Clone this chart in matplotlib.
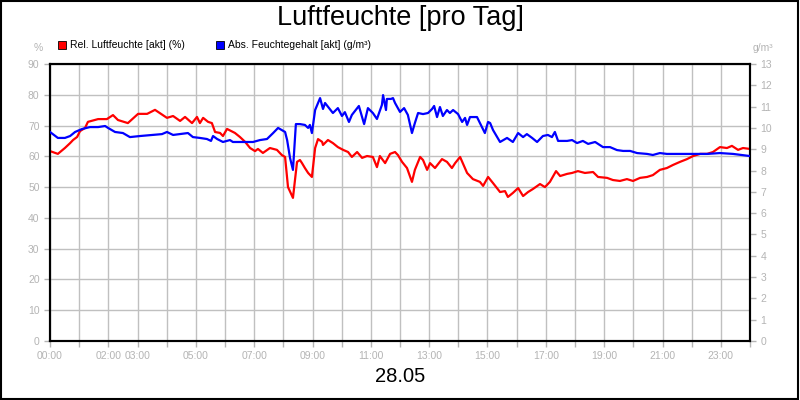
import matplotlib
matplotlib.use("Agg")
import matplotlib.pyplot as plt
from matplotlib.patches import Rectangle

plt.rcParams['font.family'] = ['Liberation Sans', 'DejaVu Sans']

title = "Luftfeuchte [pro Tag]"
date_label = "28.05"
rel_label = "Rel. Luftfeuchte [akt] (%)"
abs_label = "Abs. Feuchtegehalt [akt] (g/m³)"
tick_hours_labeled = [0, 2, 3, 5, 7, 9, 11, 13, 15, 17, 19, 21, 23]

rel_hours = [0.00, 0.27, 0.51, 0.69, 0.79, 0.93, 1.03, 1.20, 1.30, 1.65, 1.95, 2.16, 2.33, 2.67,
             3.02, 3.33, 3.60, 3.87, 4.01, 4.22, 4.46, 4.63, 4.87, 5.04, 5.14, 5.25, 5.42, 5.55,
             5.66, 5.83, 5.93, 6.07, 6.34, 6.51, 6.69, 6.86, 7.03, 7.13, 7.30, 7.54, 7.78, 7.95,
             8.06, 8.16, 8.33, 8.47, 8.57, 8.64, 8.74, 8.85, 8.98, 9.09, 9.19, 9.33, 9.36, 9.53,
             9.70, 9.87, 10.05, 10.22, 10.35, 10.53, 10.70, 10.87, 11.07, 11.21, 11.31, 11.49,
             11.66, 11.83, 11.93, 12.07, 12.24, 12.41, 12.51, 12.69, 12.79, 12.93, 13.03, 13.20,
             13.44, 13.61, 13.78, 13.89, 14.06, 14.30, 14.50, 14.74, 14.85, 15.02, 15.19, 15.43,
             15.60, 15.70, 15.87, 16.05, 16.22, 16.39, 16.56, 16.80, 16.97, 17.14, 17.35, 17.49,
             17.73, 17.90, 18.10, 18.34, 18.62, 18.79, 19.10, 19.30, 19.54, 19.78, 19.99, 20.23,
             20.47, 20.67, 20.91, 21.15, 21.36, 21.60, 21.84, 22.05, 22.29, 22.53, 22.73, 22.97,
             23.21, 23.38, 23.59, 23.76, 24.00]
rel_values = [61.7, 60.8, 62.7, 64.3, 65.3, 66.3, 68.2, 69.2, 71.2, 72.1, 72.1, 73.4, 71.8, 70.8,
              73.8, 73.8, 75.1, 73.4, 72.5, 73.1, 71.5, 72.8, 70.8, 72.8, 70.8, 72.5, 71.2, 70.8,
              67.9, 67.6, 66.6, 68.9, 67.6, 66.3, 64.7, 62.7, 61.7, 62.4, 61.1, 62.7, 62.1, 60.4,
              59.8, 50.0, 46.5, 58.2, 58.8, 57.8, 56.2, 54.6, 53.3, 62.7, 65.6, 64.7, 63.7, 65.3,
              64.3, 63.0, 62.1, 61.4, 59.8, 61.4, 59.5, 60.1, 59.8, 56.5, 60.1, 57.8,
              60.8, 61.4, 60.4, 58.2, 56.2, 51.7, 55.6, 59.8, 58.8, 55.6, 57.8, 56.2,
              59.1, 58.2, 56.2, 57.8, 59.8, 54.6, 52.6, 51.7, 50.4, 53.3, 51.3, 48.4,
              48.7, 46.8, 48.1, 49.7, 47.1, 48.4, 49.4, 51.0, 50.0, 51.7, 55.2, 53.6,
              54.3, 54.6, 55.2, 54.6, 54.9, 53.3, 53.0, 52.3, 52.0, 52.6, 52.0, 53.0,
              53.3, 53.9, 55.6, 56.2, 57.2, 58.2, 59.1, 60.1, 60.8, 60.8, 61.4, 63.0,
              62.7, 63.4, 62.1, 62.7, 62.4]

abs_hours = [0.00, 0.27, 0.51, 0.69, 0.86, 1.10, 1.37, 1.65, 1.89, 1.99, 2.23, 2.50, 2.74, 3.09,
             3.53, 3.84, 4.01, 4.22, 4.46, 4.73, 4.90, 5.14, 5.38, 5.52, 5.59, 5.73, 5.93, 6.17,
             6.27, 6.75, 6.96, 7.20, 7.44, 7.65, 7.82, 8.06, 8.13, 8.23, 8.33, 8.43, 8.57, 8.74,
             8.85, 8.91, 8.98, 9.09, 9.26, 9.36, 9.43, 9.70, 9.87, 10.01, 10.11, 10.25, 10.35,
             10.59, 10.77, 10.90, 11.07, 11.21, 11.38, 11.42, 11.52, 11.55, 11.69, 11.76, 11.83,
             12.00, 12.14, 12.27, 12.41, 12.51, 12.62, 12.79, 12.96, 13.10, 13.17, 13.27, 13.37,
             13.47, 13.61, 13.71, 13.82, 13.99, 14.13, 14.23, 14.30, 14.40, 14.64, 14.74, 14.91,
             15.02, 15.09, 15.19, 15.43, 15.67, 15.87, 16.05, 16.22, 16.35, 16.53, 16.70, 16.90,
             17.07, 17.21, 17.31, 17.42, 17.73, 17.90, 18.07, 18.27, 18.45, 18.69, 18.96, 19.20,
             19.44, 19.65, 19.89, 20.13, 20.47, 20.67, 20.91, 21.15, 21.60, 22.05, 22.53, 22.97,
             23.42, 24.00]
abs_values = [9.81, 9.53, 9.53, 9.62, 9.81, 9.95, 10.04, 10.04, 10.09, 10.00, 9.81, 9.76, 9.57, 9.62,
              9.67, 9.71, 9.81, 9.67, 9.71, 9.76, 9.57, 9.53, 9.48, 9.39, 9.62, 9.48, 9.34, 9.43,
              9.34, 9.34, 9.34, 9.43, 9.48, 9.76, 10.00, 9.81, 9.43, 8.59, 8.03, 10.18, 10.18, 10.14,
              10.00, 10.14, 9.76, 10.84, 11.40, 10.89, 11.17, 10.70, 10.93, 10.56, 10.74, 10.28, 10.61,
              11.03, 10.18, 10.93, 10.70, 10.42, 11.08, 11.54, 10.84, 11.36, 11.36, 11.40, 11.17,
              10.75, 10.93, 10.61, 9.76, 10.23, 10.70, 10.65, 10.70, 10.89, 11.03, 10.51, 10.98,
              10.56, 10.84, 10.70, 10.84, 10.65, 10.28, 10.47, 10.14, 10.51, 10.51, 10.23, 9.76,
              10.28, 10.23, 9.90, 9.34, 9.53, 9.34, 9.76, 9.57, 9.71, 9.53, 9.34, 9.62,
              9.67, 9.57, 9.81, 9.39, 9.39, 9.43, 9.29, 9.39, 9.25, 9.34, 9.10, 9.10,
              8.96, 8.92, 8.92, 8.82, 8.78, 8.73, 8.82, 8.78, 8.78, 8.78, 8.78, 8.82,
              8.78, 8.68]

GREY = '#b4b4b4'
GRID = '#c0c0c0'

fig = plt.figure(figsize=(8, 4), dpi=100)
ax = fig.add_axes([50/800, 1 - 341/400, 700/800, 277/400])
ax2 = ax.twinx()

ax.set_xlim(0, 24)
ax.set_ylim(0, 90)
ax2.set_ylim(0, 13)

ax.set_xticks(range(0, 25))
ax.set_xticklabels([f"{h:02d}:00" if h in tick_hours_labeled else "" for h in range(0, 25)])
ax.set_yticks(range(0, 91, 10))
ax2.set_yticks(range(0, 14))

ax.grid(True, color=GRID, linewidth=1.0)
ax.set_axisbelow(True)

ax.tick_params(axis='both', colors=GREY, labelcolor=GREY, labelsize=7.5, length=4, width=1)
ax.tick_params(axis='x', pad=3)
ax2.tick_params(axis='y', colors=GREY, labelcolor=GREY, labelsize=7.5, length=4, width=1)

for a in (ax, ax2):
    for s in a.spines.values():
        s.set_color('black')
        s.set_linewidth(1.5)

ax.plot(rel_hours, rel_values, color='#ff0000', linewidth=1.6, zorder=3)
ax2.plot(abs_hours, abs_values, color='#0000ff', linewidth=1.6, zorder=3)

fig.text(0.5, 1 - 18/400, title, ha='center', va='center', fontsize=19.5, color='black')
fig.text(0.5, 1 - 377/400, date_label, ha='center', va='center', fontsize=14.5, color='black')

fig.text(43/800, 1 - 48/400, "%", ha='right', va='center', fontsize=7.5, color=GREY)
fig.text(753/800, 1 - 48/400, "g/m³", ha='left', va='center', fontsize=7.5, color=GREY)

# legend
fig.patches.append(Rectangle((58/800, 1 - 49/400), 8/800, 8/400, transform=fig.transFigure,
                             facecolor='#ff0000', edgecolor='black', linewidth=0.6))
fig.text(70/800, 1 - 45/400, rel_label, ha='left', va='center', fontsize=7.5, color='black')
fig.patches.append(Rectangle((216/800, 1 - 49/400), 8/800, 8/400, transform=fig.transFigure,
                             facecolor='#0000ff', edgecolor='black', linewidth=0.6))
fig.text(228/800, 1 - 45/400, abs_label, ha='left', va='center', fontsize=7.5, color='black')

# outer border
fig.patches.append(Rectangle((0.001, 0.002), 0.997, 0.996, transform=fig.transFigure,
                             facecolor='none', edgecolor='black', linewidth=1.5))

fig.savefig("out.png", dpi=100)
